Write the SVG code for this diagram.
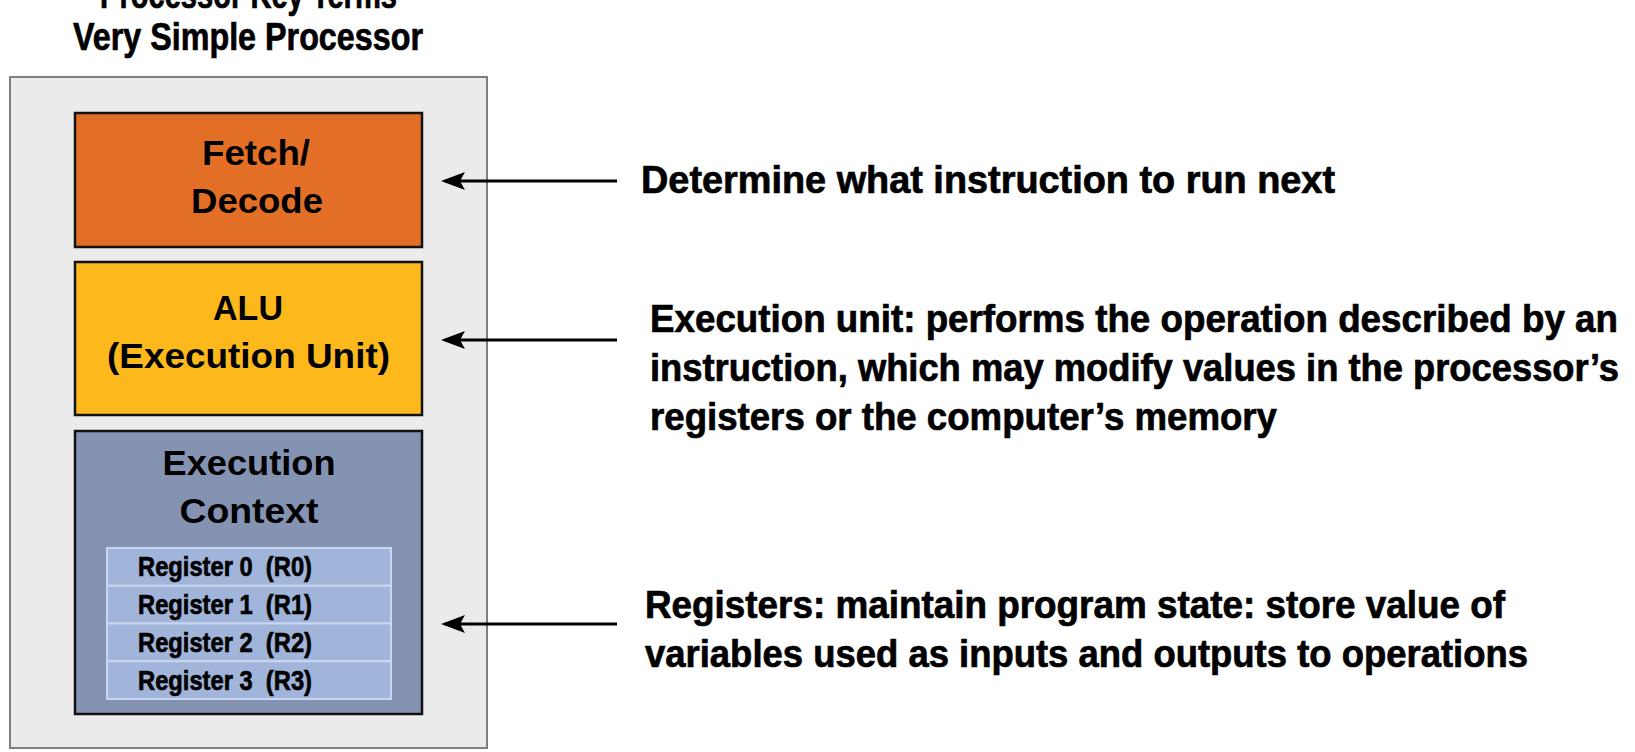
<svg xmlns="http://www.w3.org/2000/svg" width="1635" height="752" viewBox="0 0 1635 752">
  <defs>
    <marker id="ah" viewBox="0 0 24 18" refX="20" refY="9" markerWidth="24" markerHeight="18" markerUnits="userSpaceOnUse" orient="auto">
      <path d="M24,9 L0,0 L5,9 L0,18 Z" fill="#000"/>
    </marker>
  </defs>
  <style>
    .bg { fill: #ffffff; }
    .outer { fill: #ebebeb; stroke: #7f7f7f; stroke-width: 2; }
    .unit { stroke: #111; stroke-width: 2.5; }
    .fetch { fill: #e36f26; }
    .alu { fill: #fdb91b; }
    .ctx { fill: #8593b3; }
    .reg { fill: #a1b4da; stroke: #c9d6f2; stroke-width: 2; }
    .cond { font-family: "Liberation Sans Narrow", "Liberation Sans", Arial, sans-serif; font-weight: bold; fill: #000; stroke: #000; stroke-width: 0.7; }
    .wide { font-family: "Liberation Sans", Arial, sans-serif; font-weight: bold; fill: #000; }
    .pre { white-space: pre; }
    .conn { stroke: #000; stroke-width: 3; fill: none; }
  </style>
  <rect class="bg" x="0" y="0" width="1635" height="752"/>

  <g id="title">
    <text class="cond" x="248.5" y="8" font-size="38" text-anchor="middle" textLength="297" lengthAdjust="spacingAndGlyphs">Processor Key Terms</text>
    <text class="cond" x="248" y="50" font-size="38" text-anchor="middle" textLength="350" lengthAdjust="spacingAndGlyphs">Very Simple Processor</text>
  </g>

  <g id="processor">
    <rect class="outer" x="10" y="77" width="477" height="671"/>
  </g>

  <g id="fetch-decode">
    <rect class="unit fetch" x="75" y="113" width="347" height="134"/>
    <text class="wide" x="256" y="165" font-size="35" text-anchor="middle" textLength="108" lengthAdjust="spacingAndGlyphs">Fetch/</text>
    <text class="wide" x="257" y="213" font-size="35" text-anchor="middle" textLength="132" lengthAdjust="spacingAndGlyphs">Decode</text>
  </g>

  <g id="alu">
    <rect class="unit alu" x="75" y="262" width="347" height="153"/>
    <text class="wide" x="248" y="320" font-size="35" text-anchor="middle" textLength="70" lengthAdjust="spacingAndGlyphs">ALU</text>
    <text class="wide" x="248.5" y="368" font-size="35" text-anchor="middle" textLength="283" lengthAdjust="spacingAndGlyphs">(Execution Unit)</text>
  </g>

  <g id="execution-context">
    <rect class="unit ctx" x="75" y="431" width="347" height="283"/>
    <text class="wide" x="249" y="475" font-size="35" text-anchor="middle" textLength="173" lengthAdjust="spacingAndGlyphs">Execution</text>
    <text class="wide" x="249" y="523" font-size="35" text-anchor="middle" textLength="139" lengthAdjust="spacingAndGlyphs">Context</text>
  </g>

  <g id="register-0">
    <rect class="reg" x="107" y="548" width="284" height="37.75"/>
    <text class="cond pre" x="138" y="576" font-size="28" textLength="174" lengthAdjust="spacingAndGlyphs">Register 0  (R0)</text>
  </g>
  <g id="register-1">
    <rect class="reg" x="107" y="585.75" width="284" height="37.75"/>
    <text class="cond pre" x="138" y="614" font-size="28" textLength="174" lengthAdjust="spacingAndGlyphs">Register 1  (R1)</text>
  </g>
  <g id="register-2">
    <rect class="reg" x="107" y="623.5" width="284" height="37.75"/>
    <text class="cond pre" x="138" y="652" font-size="28" textLength="174" lengthAdjust="spacingAndGlyphs">Register 2  (R2)</text>
  </g>
  <g id="register-3">
    <rect class="reg" x="107" y="661.25" width="284" height="37.75"/>
    <text class="cond pre" x="138" y="690" font-size="28" textLength="174" lengthAdjust="spacingAndGlyphs">Register 3  (R3)</text>
  </g>

  <g id="label-fetch">
    <text class="cond" x="641" y="193" font-size="38" textLength="694" lengthAdjust="spacingAndGlyphs">Determine what instruction to run next</text>
  </g>
  <g id="label-alu">
    <text class="cond" x="650" y="332" font-size="38" textLength="968" lengthAdjust="spacingAndGlyphs">Execution unit: performs the operation described by an</text>
    <text class="cond" x="650" y="381" font-size="38" textLength="969" lengthAdjust="spacingAndGlyphs">instruction, which may modify values in the processor’s</text>
    <text class="cond" x="650" y="430" font-size="38" textLength="627" lengthAdjust="spacingAndGlyphs">registers or the computer’s memory</text>
  </g>
  <g id="label-registers">
    <text class="cond" x="645" y="618" font-size="38" textLength="860" lengthAdjust="spacingAndGlyphs">Registers: maintain program state: store value of</text>
    <text class="cond" x="645" y="667" font-size="38" textLength="883" lengthAdjust="spacingAndGlyphs">variables used as inputs and outputs to operations</text>
  </g>

  <g id="connectors">
    <line class="conn" x1="617" y1="181" x2="445" y2="181" marker-end="url(#ah)"/>
    <line class="conn" x1="617" y1="340" x2="445" y2="340" marker-end="url(#ah)"/>
    <line class="conn" x1="617" y1="624" x2="445" y2="624" marker-end="url(#ah)"/>
  </g>
</svg>
